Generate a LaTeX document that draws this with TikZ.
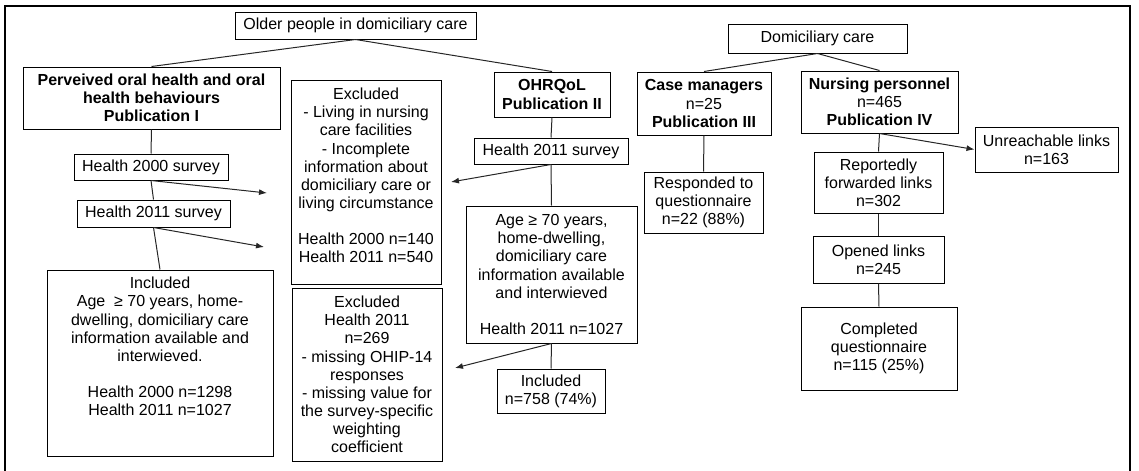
\documentclass[tikz,border=0pt]{standalone}
\usepackage{fontspec}
\setmainfont{Liberation Sans}
\usetikzlibrary{arrows.meta}
\newcommand\bx[6]{\node[box, minimum width={(#4-#2)*0.75pt}, minimum height={(#5-#3)*0.75pt}] (#1) at ({(#2+#4)/2},{(#3+#5)/2}) {#6};}
\begin{document}
\begin{tikzpicture}[x=0.75pt,y=-0.75pt,
  every node/.style={font=\fontsize{12pt}{13.6pt}\selectfont, align=center, inner sep=0pt},
  box/.style={draw=black, line width=0.75pt},
  txt/.style={},
  conn/.style={draw=black!85, line width=0.75pt},
  arr/.style={conn, -{Latex[length=6pt,width=4.5pt]}},
  frame/.style={draw=black, line width=1.6pt}]
\useasboundingbox (0,0) rectangle (1139,471);
\draw[frame] (5,490) -- (5,6) -- (1130,6) -- (1130,490);

\bx{older}{235}{12}{476}{39}{Older people in domiciliary care}
\bx{pub1}{23}{67}{280}{129}{\textbf{Perveived oral health and oral}\\\textbf{health behaviours}\\\textbf{Publication I}}
\bx{h2000}{74}{154}{228}{180}{Health 2000 survey}
\bx{h2011a}{77}{200}{230}{227}{Health 2011 survey}
\bx{inc1}{47}{270}{273}{456}{}
\node[txt] (inc1t) at (160,346.5) {Included\\Age \ ≥ 70 years, home-\\dwelling, domiciliary care\\information available and\\interwieved.\\[13.6pt]Health 2000 n=1298\\Health 2011 n=1027};
\bx{exc1}{291}{80}{441}{284}{}
\node[txt] (exc1t) at (366,175.5) {Excluded\\- Living in nursing\\care facilities\\- Incomplete\\information about\\domiciliary care or\\living circumstance\\[13.6pt]Health 2000 n=140\\Health 2011 n=540};
\bx{exc2}{292}{288}{442}{461}{Excluded\\Health 2011\\n=269\\- missing OHIP-14\\responses\\- missing value for\\the survey-specific\\weighting\\coefficient}
\bx{ohrq}{494}{72}{610}{117}{\textbf{OHRQoL}\\\textbf{Publication II}}
\bx{h2011b}{474}{138}{628}{164}{Health 2011 survey}
\bx{age}{466}{206}{637}{343}{Age ≥ 70 years,\\home-dwelling,\\domiciliary care\\information available\\and interwieved\\[13.6pt]Health 2011 n=1027}
\bx{inc2}{497}{369}{605}{413}{Included\\n=758 (74\%)}
\bx{dom}{728}{24}{907}{53}{Domiciliary care}
\bx{case}{637}{72}{771}{135}{\textbf{Case managers}\\n=25\\\textbf{Publication III}}
\bx{resp}{644}{172}{763}{233}{Responded to\\questionnaire\\n=22 (88\%)}
\bx{nurs}{801}{71}{958}{133}{\textbf{Nursing personnel}\\n=465\\\textbf{Publication IV}}
\bx{unr}{975}{127}{1118}{172}{Unreachable links\\n=163}
\bx{rep}{814}{152}{943}{213}{Reportedly\\forwarded links\\n=302}
\bx{open}{813}{236}{944}{283}{Opened links\\n=245}
\bx{comp}{801}{307}{957}{390}{Completed\\questionnaire\\n=115 (25\%)}

\coordinate (a1) at (267,193);
\coordinate (a2) at (264,247);
\coordinate (a3) at (451,182);
\coordinate (a4) at (455,368);

\draw[conn] (older.south) -- (pub1.north);
\draw[conn] (older.south) -- (ohrq.north);
\draw[conn] (pub1.south) -- (h2000.north);
\draw[conn] (h2000.south) -- (h2011a.north);
\draw[arr] (h2000.south) -- (a1);
\draw[arr] (h2011a.south) -- (a2);
\draw[conn] (h2011a.south) -- (inc1.north);
\draw[conn] (ohrq.south) -- (h2011b.north);
\draw[arr] (h2011b.south) -- (a3);
\draw[conn] (h2011b.south) -- (age.north);
\draw[arr] (age.south) -- (a4);
\draw[conn] (age.south) -- (inc2.north);
\draw[conn] (dom.south) -- (case.north);
\draw[conn] (dom.south) -- (nurs.north);
\draw[conn] (case.south) -- (resp.north);
\draw[conn] (nurs.south) -- (rep.north);
\draw[arr] (nurs.south) -- (unr.west);
\draw[conn] (rep.south) -- (open.north);
\draw[conn] (open.south) -- (comp.north);
\end{tikzpicture}
\end{document}
